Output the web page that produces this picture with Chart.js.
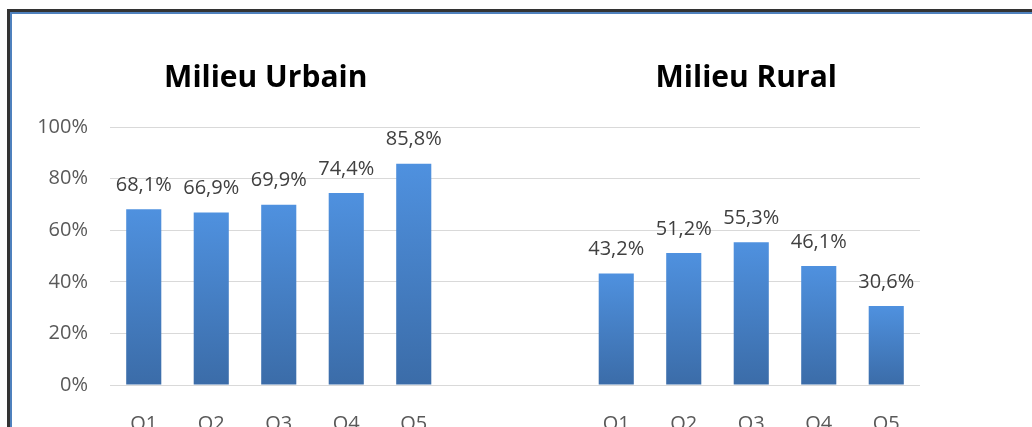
<!DOCTYPE html>
<html>
<head>
<meta charset="utf-8">
<script src="https://cdn.jsdelivr.net/npm/chart.js@4.4.0/dist/chart.umd.min.js"></script>
<style>
    html, body { margin: 0; padding: 0; background: #fff; overflow: hidden; }
    #wrap { position: relative; width: 1032px; height: 427px; overflow: hidden; }
    #frame { position: absolute; left: 7px; top: 9px; right: 0; bottom: -10px;
        border-left: 3px solid #333; border-top: 3px solid #333; }
    #frame2 { position: absolute; left: 10px; top: 12px; right: 0; bottom: -10px;
        border-left: 2px solid #4f81bd; border-top: 2px solid #4f81bd; }
    #box { position: absolute; left: 0; top: 0; width: 1032px; height: 455px; }
</style>
</head>
<body>
<div id="wrap">
    <div id="box"><canvas id="chart"></canvas></div>
    <div id="frame"></div>
    <div id="frame2"></div>
</div>
<script>
const quintiles = ['Q1', 'Q2', 'Q3', 'Q4', 'Q5'];
const urbain = [68.1, 66.9, 69.9, 74.4, 85.8];
const rural = [43.2, 51.2, 55.3, 46.1, 30.6];
const titles = ['Milieu Urbain', 'Milieu Rural'];
const yTicks = [0, 20, 40, 60, 80, 100];

const labels = quintiles.concat(['', ''], quintiles);
const values = urbain.concat([null, null], rural);

function barGradient(context) {
    const chart = context.chart;
    const area = chart.chartArea;
    const v = values[context.dataIndex];
    if (!area || v == null) return '#4a86cf';
    const yScale = chart.scales.y;
    const top = yScale.getPixelForValue(v);
    const bottom = yScale.getPixelForValue(0);
    if (!isFinite(top) || !isFinite(bottom)) return '#4a86cf';
    const g = chart.ctx.createLinearGradient(0, top, 0, bottom);
    g.addColorStop(0, '#4f91df');
    g.addColorStop(1, '#3b6ca8');
    return g;
}

const extras = {
    id: 'extras',
    afterDatasetsDraw(chart) {
        const ctx = chart.ctx;
        const meta = chart.getDatasetMeta(0);
        ctx.save();
        ctx.fillStyle = '#404040';
        ctx.font = '20px "Open Sans", sans-serif';
        ctx.textAlign = 'center';
        ctx.textBaseline = 'middle';
        meta.data.forEach((bar, i) => {
            if (values[i] == null) return;
            ctx.fillText(values[i].toFixed(1).replace('.', ',') + '%', bar.x, bar.y - 24);
        });
        // group titles
        ctx.fillStyle = '#000';
        ctx.font = 'bold 30px "Open Sans", sans-serif';
        const xs = chart.scales.x;
        ctx.fillText(titles[0], xs.getPixelForValue(2) - 13, 78);
        ctx.fillText(titles[1], xs.getPixelForValue(9) - 5, 78);
        ctx.restore();
    }
};

new Chart(document.getElementById('chart'), {
    type: 'bar',
    data: {
        labels: labels,
        datasets: [{
            data: values,
            backgroundColor: barGradient,
            borderWidth: 0,
            barPercentage: 0.52,
            categoryPercentage: 1
        }]
    },
    options: {
        responsive: true,
        maintainAspectRatio: false,
        animation: false,
        events: [],
        layout: { padding: { left: 0, right: 112, top: 127, bottom: 0 } },
        plugins: { legend: { display: false }, tooltip: { enabled: false } },
        scales: {
            x: {
                grid: { display: false },
                border: { display: false },
                ticks: { color: '#595959', font: { family: 'Open Sans', size: 20 }, padding: 19 }
            },
            y: {
                min: 0,
                max: 100,
                afterFit(scale) { scale.width = 110; },
                afterBuildTicks(scale) { scale.ticks = yTicks.map(v => ({ value: v })); },
                grid: { color: '#d9d9d9', drawTicks: false },
                border: { display: false },
                ticks: {
                    color: '#595959',
                    font: { family: 'Open Sans', size: 20 },
                    padding: 22,
                    callback: v => v + '%'
                }
            }
        }
    },
    plugins: [extras]
});
</script>
</body>
</html>
